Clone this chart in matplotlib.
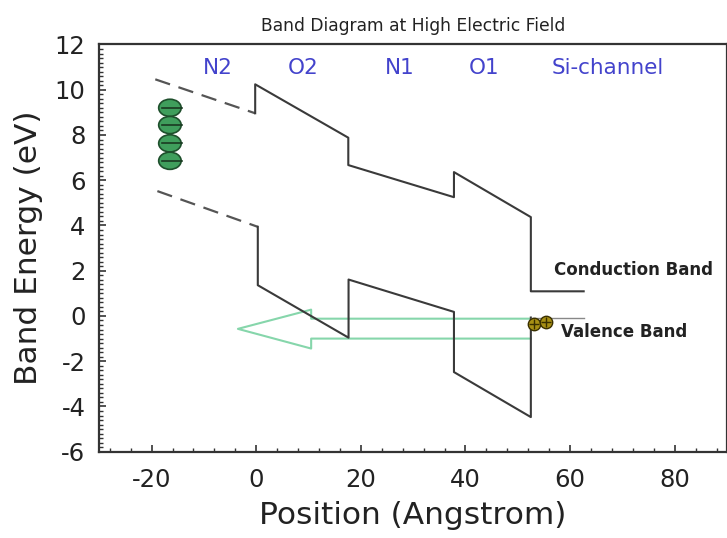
import matplotlib
matplotlib.use('Agg')
import matplotlib.pyplot as plt
from matplotlib.patches import Ellipse
from matplotlib.ticker import MultipleLocator

plt.rcParams['axes.unicode_minus'] = False

# Datos
cb_dash_x = [-19.3, -0.2]
cb_dash_y = [10.46, 8.96]
cb_x = [-0.2, -0.2, 17.6, 17.6, 37.8, 37.8, 52.5, 52.5, 62.6]
cb_y = [8.96, 10.24, 7.88, 6.67, 5.25, 6.36, 4.37, 1.09, 1.09]

vb_dash_x = [-18.9, 0.3]
vb_dash_y = [5.52, 3.94]
vb_x = [0.3, 0.3, 17.65, 17.65, 37.8, 37.8, 52.5, 52.5]
vb_y = [3.94, 1.36, -0.96, 1.61, 0.18, -2.48, -4.47, -0.07]
vb_si_x = [52.5, 62.6]
vb_si_y = [-0.07, -0.07]

arrow_x = [52.5, 10.5, 10.5, -3.5, 10.5, 10.5, 52.5]
arrow_y = [-0.12, -0.12, 0.28, -0.57, -1.44, -1.0, -1.0]

electron_x = [-16.5, -16.5, -16.5, -16.5]
electron_y = [9.2, 8.44, 7.63, 6.86]
hole_x = [53.1, 55.4]
hole_y = [-0.37, -0.27]

layer_names = ['N2', 'O2', 'N1', 'O1', 'Si-channel']
layer_x = [-7.3, 9.0, 27.4, 43.5, 67.2]
layer_y = 10.96

fig = plt.figure(figsize=(7.27, 5.38), dpi=100)
ax = fig.add_axes([0.1366, 0.1604, 0.8634, 0.7569])

band_col = '#3a3a3a'
ax.plot(cb_dash_x, cb_dash_y, color='#555555', lw=1.6, dashes=(7, 4))
ax.plot(vb_dash_x, vb_dash_y, color='#555555', lw=1.6, dashes=(7, 4))
ax.plot(cb_x, cb_y, color=band_col, lw=1.5, zorder=3)
ax.plot(vb_x, vb_y, color=band_col, lw=1.5, zorder=3)
ax.plot(vb_si_x, vb_si_y, color='#888888', lw=1.0, zorder=3)

# flecha verde (tunel de huecos)
ax.plot(arrow_x, arrow_y, color='#86d6ab', lw=1.5, zorder=2)

# electrones
for ex, ey in zip(electron_x, electron_y):
    ax.add_patch(Ellipse((ex, ey), 4.3, 0.76, facecolor='#3f9e5c',
                         edgecolor='#1e4f2c', lw=1.2, zorder=4))
    ax.plot([ex - 1.5, ex + 2.4], [ey, ey], color='#1a3a22', lw=1.2, zorder=5)

# huecos
ax.scatter(hole_x, hole_y, s=80, color='#a89014', edgecolor='#3a3000',
           linewidth=1.0, zorder=4)
ax.scatter(hole_x, hole_y, s=45, marker='+', color='#3a3000', linewidth=1.0, zorder=5)

for name, lx in zip(layer_names, layer_x):
    ax.text(lx, layer_y, name, color='#4343cc', fontsize=15.5,
            ha='center', va='center')

ax.text(57.0, 2.02, 'Conduction Band', fontsize=12, fontweight='bold',
        color='#222222', ha='left', va='center')
ax.text(58.3, -0.72, 'Valence Band', fontsize=12, fontweight='bold',
        color='#222222', ha='left', va='center')

ax.set_xlim(-30, 90)
ax.set_ylim(-6, 12)
ax.xaxis.set_major_locator(MultipleLocator(20))
ax.xaxis.set_minor_locator(MultipleLocator(4))
ax.yaxis.set_major_locator(MultipleLocator(2))
ax.yaxis.set_minor_locator(MultipleLocator(0.2))
ax.tick_params(which='both', direction='in', colors='#333333', labelcolor='#222222')
ax.tick_params(which='major', length=5, width=1.2, labelsize=17.5)
ax.tick_params(which='minor', length=3, width=1.0)
ax.tick_params(axis='x', pad=12)
ax.tick_params(axis='y', pad=10)
for sp in ax.spines.values():
    sp.set_color('#333333')
    sp.set_linewidth(1.6)

ax.set_xlabel('Position (Angstrom)', fontsize=22.5, color='#222222', labelpad=6)
ax.set_ylabel('Band Energy (eV)', fontsize=22.5, color='#222222', labelpad=8)
ax.set_title('Band Diagram at High Electric Field', fontsize=12.3,
             color='#222222', pad=10)

fig.savefig('out.png', dpi=100)
